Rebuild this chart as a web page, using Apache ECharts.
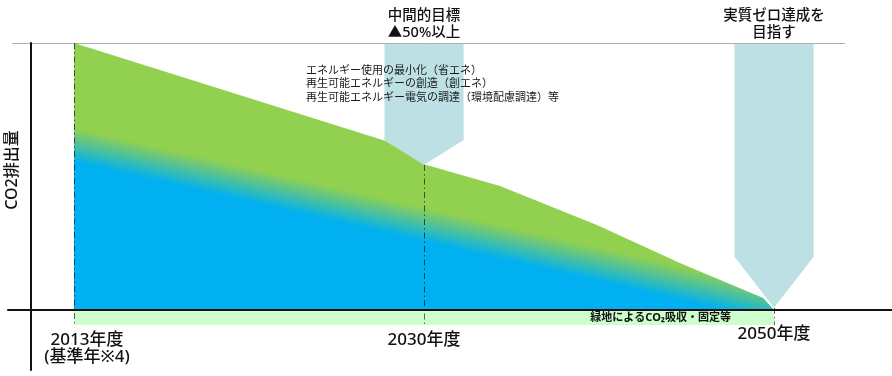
<!DOCTYPE html>
<html>
<head>
<meta charset="utf-8">
<script src="https://cdn.jsdelivr.net/npm/echarts@6/dist/echarts.min.js"></script>
<style>
  html, body { margin: 0; padding: 0; background: #fff; }
  #chart { width: 892px; height: 376px; }
</style>
</head>
<body>
<div id="chart"></div>
<script>
// x軸: 2013年度=0, 2030年度=1, 2050年度=2 の位置（概念図なので年数比ではない）
const yearPos = [0, 1, 2]
const yearLabels = ['2013年度\n(基準年※4)', '2030年度', '2050年度']
const labelPos = [0.037, 1, 2]

// CO2排出量（2013年度 = 100）
const emissionX = [0, 0.891, 1, 1.217, 1.494, 1.731, 1.969, 2]
const emissionY = [100, 63.3, 54.6, 46.4, 31.8, 17.6, 4.5, 0]

// 目標の矢印：中心・軸の下端・先端・半幅
const arrowX = [1, 2]
const arrowShaftEnd = [63.7, 19.9]
const arrowTip = [54.3, 0.8]
const arrowHalf = [0.113, 0.113]
const arrowLabels = ['中間的目標\n▲50%以上', '実質ゼロ達成を\n目指す']

const measures = [
  'エネルギー使用の最小化（省エネ）',
  '再生可能エネルギーの創造（創エネ）',
  '再生可能エネルギー電気の調達（環境配慮調達）等'
]
const sinkLabel = '緑地によるCO₂吸収・固定等'
const sinkDepth = -5.6

// 数字は Noto Sans、かなと漢字は CJK へフォールバック
const FONT = '"Noto Sans", "Noto Sans CJK JP", sans-serif'
const GREEN = '#92d050'
const BLUE = '#00b0f0'

const chart = echarts.init(document.getElementById('chart'))

const option = {
  animation: false,
  grid: { left: 8, right: 0, top: 43, bottom: 6, outerBoundsMode: 'none', containLabel: false },
  xAxis: {
    type: 'value',
    min: -0.1886,
    max: 2.337,
    z: 10,
    axisLine: { onZero: true, lineStyle: { color: '#111', width: 2 } },
    axisTick: { show: false },
    splitLine: { show: false },
    axisLabel: {
      customValues: labelPos,
      // ラベルはグリッド下端基準なので、ゼロ線の下へ引き上げる
      margin: -44,
      formatter: (v) => {
        const i = labelPos.findIndex(p => Math.abs(p - v) < 1e-6)
        if (i < 0) return ''
        // 2050年度だけ少し上に描かれている
        const st = i === 2 ? 'e' : 'd'
        return yearLabels[i].split('\n').map(s => '{' + st + '|' + s + '}').join('\n')
      },
      rich: {
        d: { fontSize: 17, lineHeight: 17, padding: [12, 0, 0, 0], color: '#111', fontFamily: FONT, fontWeight: 500 },
        e: { fontSize: 17, lineHeight: 17, color: '#111', fontFamily: FONT, fontWeight: 500 }
      }
    }
  },
  yAxis: {
    type: 'value',
    min: -22.47,
    max: 100,
    offset: -23,
    z: 10,
    axisLine: { show: true, onZero: false, lineStyle: { color: '#111', width: 2 } },
    axisTick: { show: false },
    axisLabel: { show: false },
    splitLine: { show: false }
  },
  graphic: [
    {
      type: 'text', x: 12, y: 170, rotation: Math.PI / 2, z: 100,
      style: { text: 'CO2排出量', font: '500 16px ' + FONT, align: 'center', verticalAlign: 'middle', fill: '#111' }
    },
    {
      type: 'text', left: 306, top: 64, z: 100,
      style: { text: measures.join('\n'), font: '11px ' + FONT, lineHeight: 13.5, fill: '#1a1a1a' }
    }
  ],
  series: [
    {
      type: 'line',
      silent: true,
      z: 2,
      symbol: 'none',
      lineStyle: { width: 0 },
      data: emissionX.map((x, i) => [x, emissionY[i]]),
      areaStyle: {
        opacity: 1,
        color: {
          type: 'linear', x: 0.019, y: 0.163, x2: -0.019, y2: 0.601,
          colorStops: [
            { offset: 0, color: GREEN },
            { offset: 0.36, color: GREEN },
            { offset: 0.64, color: BLUE },
            { offset: 1, color: BLUE }
          ]
        }
      },
      markLine: {
        silent: true,
        symbol: ['none', 'none'],
        label: { show: false },
        lineStyle: { color: 'rgba(0,0,0,0.6)', width: 1, type: [6, 3, 1.5, 3] },
        data: [
          [{ coord: [-0.177, 100], lineStyle: { color: '#b0b0b0', type: 'solid', width: 1 } }, { coord: [2.203, 100] }],
          [{ coord: [yearPos[0], 100] }, { coord: [yearPos[0], sinkDepth] }],
          [{ coord: [yearPos[1], arrowTip[0]] }, { coord: [yearPos[1], sinkDepth] }],
          [{ coord: [yearPos[2], arrowTip[1]] }, { coord: [yearPos[2], sinkDepth] }]
        ]
      },
      markArea: {
        silent: true,
        itemStyle: { color: '#ccffcc' },
        label: {
          show: true, position: 'insideRight', offset: [-38, 0],
          color: '#111', fontSize: 11, fontWeight: 'bold', fontFamily: FONT
        },
        data: [[{ name: sinkLabel, coord: [yearPos[0], -0.5] }, { coord: [yearPos[2], sinkDepth] }]]
      }
    },
    {
      type: 'custom',
      silent: true,
      z: 3,
      data: arrowX.map((x, i) => [x, arrowShaftEnd[i], arrowTip[i], arrowHalf[i]]),
      renderItem: (params, api) => {
        const x = api.value(0)
        const s = api.value(1)
        const t = api.value(2)
        const h = api.value(3)
        const pts = [
          api.coord([x - h, 100]), api.coord([x + h, 100]),
          api.coord([x + h, s]), api.coord([x, t]), api.coord([x - h, s])
        ]
        const top = api.coord([x, 100])
        return {
          type: 'group',
          children: [
            { type: 'polygon', shape: { points: pts }, style: { fill: '#bde0e4' } },
            {
              type: 'text', x: top[0], y: top[1] - 2,
              style: {
                text: arrowLabels[params.dataIndex], align: 'center', verticalAlign: 'bottom',
                font: '500 14.5px ' + FONT, lineHeight: 17, fill: '#111'
              }
            }
          ]
        }
      }
    }
  ]
}

chart.setOption(option)
</script>
</body>
</html>
